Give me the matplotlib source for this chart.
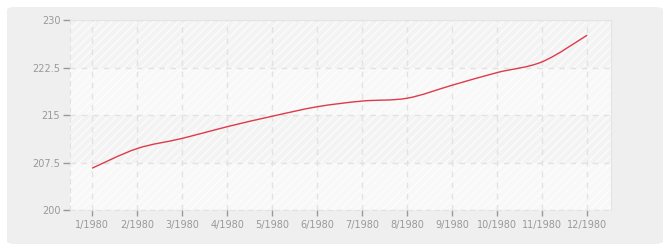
import matplotlib
matplotlib.use('Agg')
import matplotlib.pyplot as plt
from matplotlib.patches import FancyBboxPatch, PathPatch
from matplotlib.path import Path
import numpy as np

# valeurs
mois = ['1/1980', '2/1980', '3/1980', '4/1980', '5/1980', '6/1980',
        '7/1980', '8/1980', '9/1980', '10/1980', '11/1980', '12/1980']
valeurs = [206.6, 209.7, 211.3, 213.15, 214.8, 216.3,
           217.2, 217.65, 219.7, 221.7, 223.4, 227.6]
yticks = [200, 207.5, 215, 222.5, 230]
ylabels = ['200', '207.5', '215', '222.5', '230']

plt.rcParams['hatch.linewidth'] = 1.0

fig = plt.figure(figsize=(6.7, 2.5), dpi=100)
fig.patch.set_facecolor('white')

# cadre gris arrondi
fond = FancyBboxPatch((7 / 670, 6 / 250), 656 / 670, 237 / 250,
                      boxstyle='round,pad=0,rounding_size=0.012',
                      transform=fig.transFigure, facecolor='#efefef',
                      edgecolor='none', zorder=-10)
fig.patches.append(fond)

ax = fig.add_axes([70 / 670, 40 / 250, 541 / 670, 190 / 250])
ax.set_zorder(1)
ax.set_facecolor('#fafafa')

x = np.arange(1, len(valeurs) + 1)
ax.set_xlim(0.51, 12.53)
ax.set_ylim(200, 230)

# bandes hachurees
for i in range(len(yticks) - 1):
    if i % 2 == 1:
        ax.axhspan(yticks[i], yticks[i + 1], facecolor='#f3f3f3',
                   edgecolor='#fcfcfc', hatch='////', linewidth=0, zorder=0)
    else:
        ax.axhspan(yticks[i], yticks[i + 1], facecolor='#f8f8f8',
                   edgecolor='#fdfdfd', hatch='////', linewidth=0, zorder=0)

# courbe lissee (bezier type catmull-rom)
pts = np.column_stack([x, valeurs])
verts = [tuple(pts[0])]
codes = [Path.MOVETO]
n = len(pts)
for i in range(n - 1):
    p0 = pts[max(i - 1, 0)]
    p1 = pts[i]
    p2 = pts[i + 1]
    p3 = pts[min(i + 2, n - 1)]
    c1 = p1 + (p2 - p0) / 6
    c2 = p2 - (p3 - p1) / 6
    verts += [tuple(c1), tuple(c2), tuple(p2)]
    codes += [Path.CURVE4] * 3
ax.add_patch(PathPatch(Path(verts, codes), facecolor='none',
                       edgecolor='#dd3a4a', linewidth=1.0, zorder=3))

ax.set_xticks(x)
ax.set_xticklabels(mois)
ax.set_yticks(yticks)
ax.set_yticklabels(ylabels)

ax.grid(True, color='#e2e2e2', linestyle=(0, (4, 4)), linewidth=1.0)
ax.set_axisbelow(True)

for s in ['top', 'right']:
    ax.spines[s].set_color('#e4e4e4')
for s in ['left', 'bottom']:
    ax.spines[s].set_color('#e2e2e2')
    ax.spines[s].set_linestyle((0, (4, 4)))

ax.tick_params(axis='both', colors='#999999', labelsize=7, length=5,
               width=1, labelcolor='#999999')
ax.tick_params(axis='y', pad=2)
ax.tick_params(axis='x', length=4, pad=3.5)

fig.savefig('out.png', dpi=100, facecolor='white')
